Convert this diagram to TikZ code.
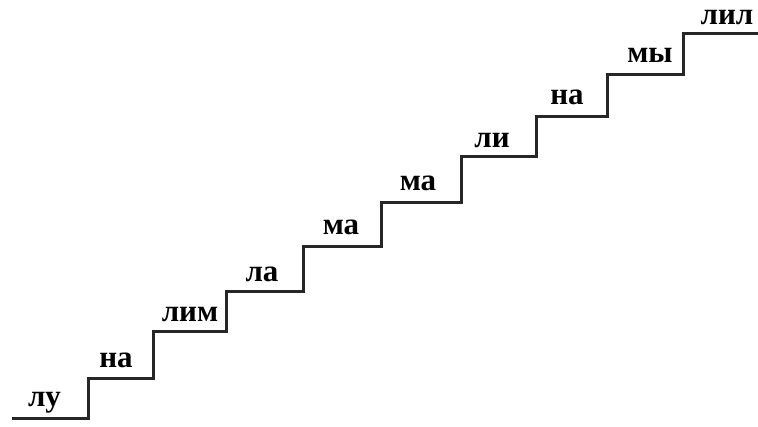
\documentclass[tikz,border=0pt]{standalone}
\usepackage{fontspec}
\setmainfont{Liberation Serif}
\begin{document}
\begin{tikzpicture}[x=1pt,y=-1pt,
  stair/.style={line width=3pt,line join=miter,black!85},
  syl/.style={anchor=base,inner sep=0pt,font=\fontsize{31}{33}\selectfont\bfseries}]
\useasboundingbox (0,0) rectangle (758,427);
\draw[stair] (12,419) -- (88,419) -- (88,379) -- (153,379) -- (153,332) -- (226,332)
  -- (226,292) -- (303,292) -- (303,247) -- (381,247) -- (381,203) -- (461,203)
  -- (461,157) -- (536,157) -- (536,117) -- (607,117) -- (607,75) -- (683,75)
  -- (683,34) -- (760,34);
\node[syl] (s1) at (44.5,407) {лу};
\node[syl] (s2) at (116,368) {на};
\node[syl] (s3) at (190,321.5) {лим};
\node[syl] (s4) at (262,281.5) {ла};
\node[syl] (s5) at (341,235) {ма};
\node[syl] (s6) at (418,191) {ма};
\node[syl] (s7) at (492,148) {ли};
\node[syl] (s8) at (567,105) {на};
\node[syl] (s9) at (650,63) {мы};
\node[syl] (s10) at (727,25) {лил};
\end{tikzpicture}
\end{document}
